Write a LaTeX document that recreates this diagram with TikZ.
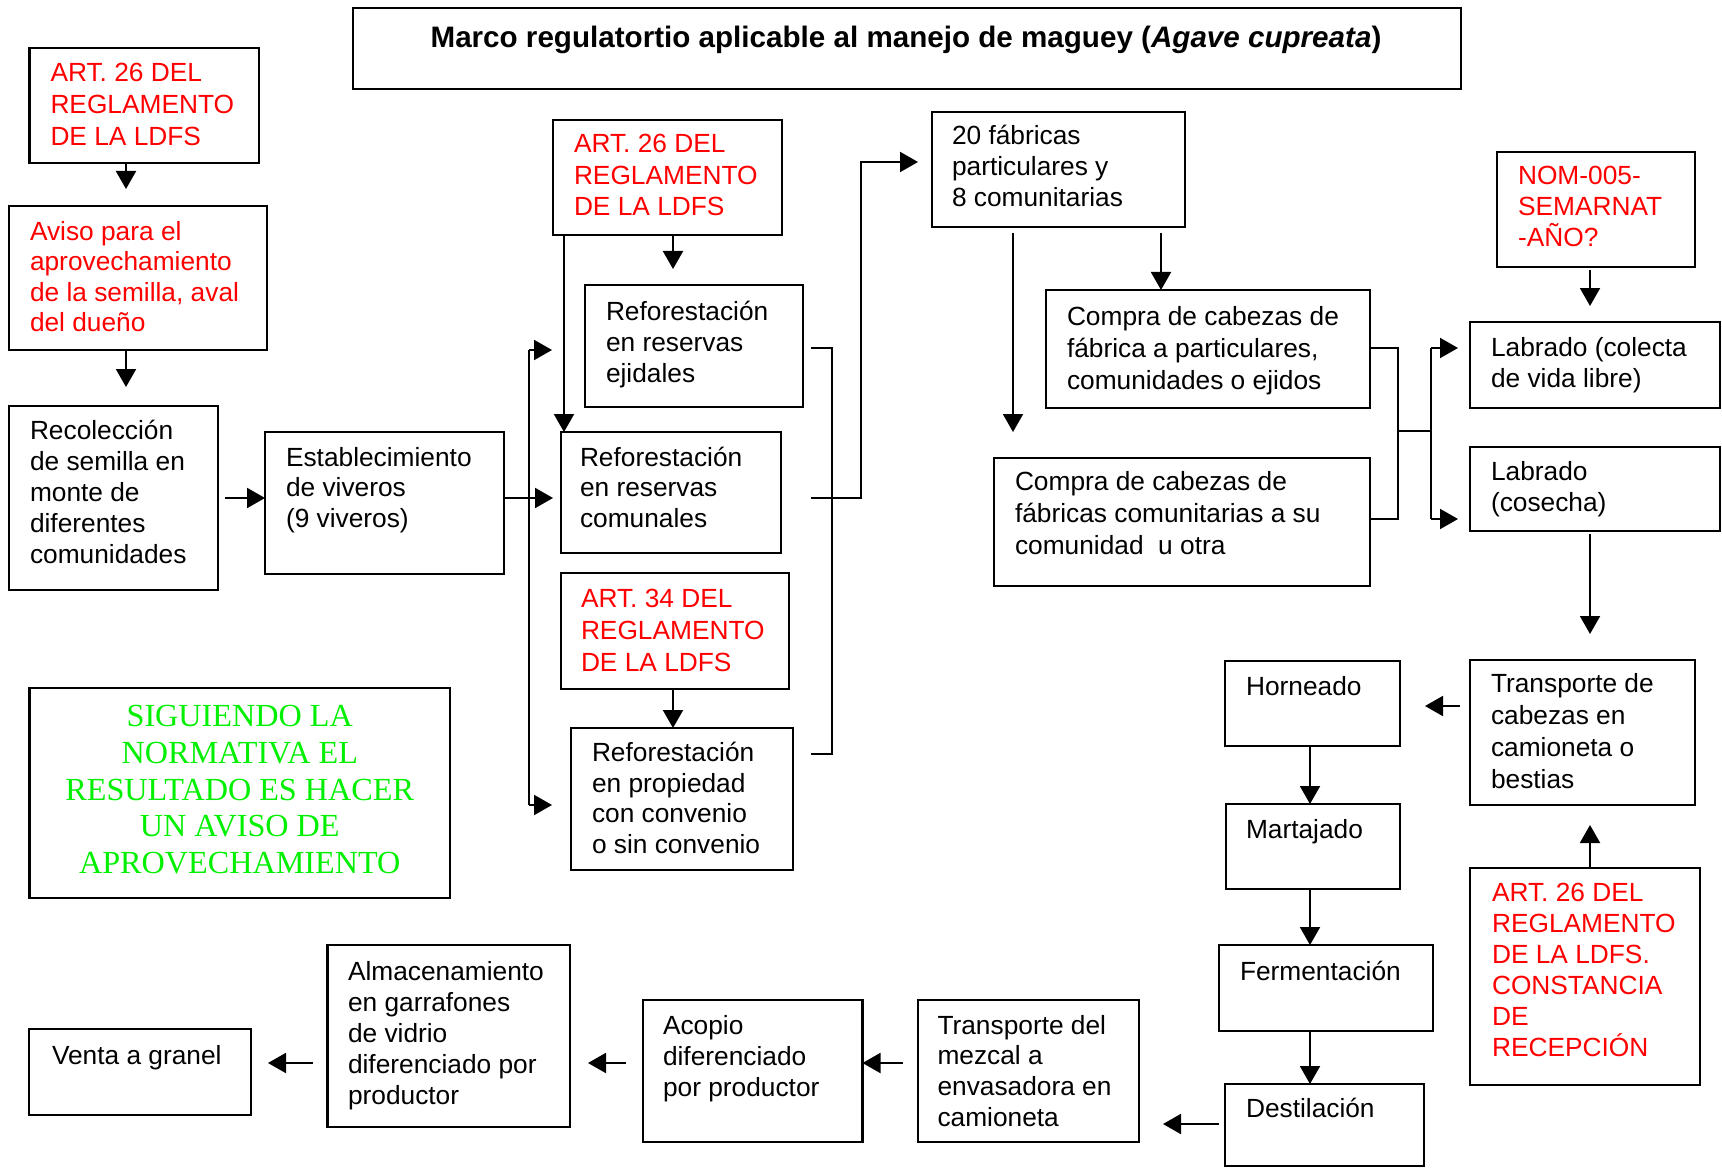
\documentclass[tikz,border=0pt]{standalone}
\usepackage{fontspec}
\setmainfont{Liberation Sans}
\newfontfamily\greenserif{Liberation Serif}
\usetikzlibrary{arrows.meta}
\definecolor{rojo}{RGB}{255,0,0}
\definecolor{verde}{RGB}{0,240,0}
\newcommand\mylines[1]{\begin{tabular}[t]{@{}l@{}}#1\end{tabular}}
\begin{document}
\begin{tikzpicture}[x=1pt,y=-1pt,
  box/.style={draw=black,line width=2.3pt,anchor=north west,inner sep=0pt,outer sep=0pt},
  txt/.style={anchor=base west,inner sep=0pt,outer sep=0pt,font=\fontsize{26.3}{#1}\selectfont},
  txt/.default=31,
  red/.style={text=rojo},
  ln/.style={line width=2pt},
  arr/.style={line width=2pt,-{Triangle[length=18pt,width=20pt]}}]
\fill[white] (0,0) rectangle (1722,1169);
\useasboundingbox (0,0) rectangle (1722,1169);

% ---------- boxes ----------
\node[box,minimum width=1108,minimum height=81] (title) at (353,8) {};
\node[box,minimum width=229.5,minimum height=115] (a1) at (29.5,48) {};
\node[box,minimum width=258,minimum height=144] (a2) at (9,206) {};
\node[box,minimum width=209,minimum height=184] (rec) at (9,406) {};
\node[box,minimum width=239,minimum height=142] (est) at (265,432) {};
\node[box,minimum width=229,minimum height=115] (art26b) at (553,120) {};
\node[box,minimum width=218,minimum height=122] (ejid) at (585,285) {};
\node[box,minimum width=220,minimum height=121] (comun) at (561,432) {};
\node[box,minimum width=228,minimum height=116] (art34) at (561,573) {};
\node[box,minimum width=222,minimum height=142] (prop) at (571,728) {};
\node[box,minimum width=253,minimum height=115] (fab) at (932,112) {};
\node[box,minimum width=324,minimum height=118] (comp1) at (1046,290) {};
\node[box,minimum width=376,minimum height=128] (comp2) at (994,458) {};
\node[box,minimum width=198,minimum height=115] (nom) at (1497,152) {};
\node[box,minimum width=250,minimum height=86] (lab1) at (1470,322) {};
\node[box,minimum width=250,minimum height=84] (lab2) at (1470,447) {};
\node[box,minimum width=225,minimum height=145] (trans) at (1470,660) {};
\node[box,minimum width=175,minimum height=85] (horn) at (1225,661) {};
\node[box,minimum width=174,minimum height=85] (mart) at (1226,804) {};
\node[box,minimum width=214,minimum height=86] (ferm) at (1219,945) {};
\node[box,minimum width=199,minimum height=82] (dest) at (1225,1084) {};
\node[box,minimum width=230,minimum height=217] (art26c) at (1470,868) {};
\node[box,minimum width=222,minimum height=86] (venta) at (29,1029) {};
\node[box,minimum width=242.5,minimum height=182] (alm) at (327.5,945) {};
\node[box,minimum width=219.5,minimum height=142] (acop) at (643,1000) {};
\node[box,minimum width=221,minimum height=142] (tmez) at (918,1000) {};
\node[box,minimum width=420.5,minimum height=210] (green) at (29.5,688) {};

% ---------- texts ----------
\node[anchor=base,inner sep=0pt,font=\fontsize{29.6}{34}\selectfont\bfseries] (titlet) at (906,48)
  {Marco regulatortio aplicable al manejo de maguey (\textit{Agave cupreata})};
\node[txt=32,red] (a1t) at (50.5,82) {\mylines{ART. 26 DEL\\REGLAMENTO\\DE LA LDFS}};
\node[txt=30.4,red] (a2t) at (30,240.5) {\mylines{Aviso para el\\aprovechamiento\\de la semilla, aval\\del dueño}};
\node[txt=31] (rect) at (30,439.5) {\mylines{Recolección\\de semilla en\\monte de\\diferentes\\comunidades}};
\node[txt=30.5] (estt) at (286,466) {\mylines{Establecimiento\\de viveros\\(9 viveros)}};
\node[txt=31.25,red] (art26bt) at (574,153) {\mylines{ART. 26 DEL\\REGLAMENTO\\DE LA LDFS}};
\node[txt=31.2] (ejidt) at (606,320) {\mylines{Reforestación\\en reservas\\ejidales}};
\node[txt=30.5] (comunt) at (580,466) {\mylines{Reforestación\\en reservas\\comunales}};
\node[txt=31.75,red] (art34t) at (581,607.5) {\mylines{ART. 34 DEL\\REGLAMENTO\\DE LA LDFS}};
\node[txt=30.5] (propt) at (592,761.5) {\mylines{Reforestación\\en propiedad\\con convenio\\o sin convenio}};
\node[txt=31] (fabt) at (952,145) {\mylines{20 fábricas\\particulares y\\8 comunitarias}};
\node[txt=32] (comp1t) at (1067,325) {\mylines{Compra de cabezas de\\fábrica a particulares,\\comunidades o ejidos}};
\node[txt=32] (comp2t) at (1015,490) {\mylines{Compra de cabezas de\\fábricas comunitarias a su\\comunidad\ \ u otra}};
\node[txt=31,red] (nomt) at (1518,185) {\mylines{NOM-005-\\SEMARNAT\\\smash{-AÑO?}}};
\node[txt=31] (lab1t) at (1491,356) {\mylines{Labrado (colecta\\de vida libre)}};
\node[txt=31.7] (lab2t) at (1491,480) {\mylines{Labrado\\(cosecha)}};
\node[txt=32] (transt) at (1491,692) {\mylines{Transporte de\\cabezas en\\camioneta o\\bestias}};
\node[txt] (hornt) at (1246,695) {Horneado};
\node[txt] (martt) at (1246,838) {Martajado};
\node[txt] (fermt) at (1240,980) {Fermentación};
\node[txt] (destt) at (1246,1117) {Destilación};
\node[txt=31,red] (art26ct) at (1492,901) {\mylines{ART. 26 DEL\\REGLAMENTO\\DE LA LDFS.\\CONSTANCIA\\DE\\\smash{RECEPCIÓN}}};
\node[txt] (ventat) at (52,1064) {Venta a granel};
\node[txt=31] (almt) at (348,980) {\mylines{Almacenamiento\\en garrafones\\de vidrio\\diferenciado por\\productor}};
\node[txt=31.2] (acopt) at (663,1034) {\mylines{Acopio\\diferenciado\\por productor}};
\node[txt=30.8] (tmezt) at (937.5,1034) {\mylines{Transporte del\\mezcal a\\envasadora en\\camioneta}};
\node[anchor=base,inner sep=0pt,text=verde,font=\greenserif\fontsize{32.2}{36.75}\selectfont] (greent) at (239.75,726.5)
  {\begin{tabular}[t]{@{}c@{}}SIGUIENDO LA\\NORMATIVA EL\\RESULTADO ES HACER\\UN AVISO DE\\APROVECHAMIENTO\end{tabular}};

% ---------- helper coordinates ----------
\coordinate (xA) at (126,0);
\coordinate (xB) at (564,0);
\coordinate (xC) at (673,0);
\coordinate (xD) at (832,0);
\coordinate (xF) at (861,0);
\coordinate (xG) at (1161,0);
\coordinate (xH) at (1013,0);
\coordinate (xI) at (1398,0);
\coordinate (xJ) at (1431,0);
\coordinate (xK) at (1590,0);
\coordinate (xL) at (1310,0);
\coordinate (yE) at (0,498);
\coordinate (yF) at (0,348);
\coordinate (yG) at (0,754);
\coordinate (yH) at (0,162);
\coordinate (yJ) at (0,519);
\coordinate (yK) at (0,431);
\coordinate (yL) at (0,706);
\coordinate (yM) at (0,1124);
\coordinate (yN) at (0,1063);
\coordinate (jt) at (529,350);
\coordinate (jb) at (529,805);

% ---------- connectors ----------
\draw[arr,shorten >=17pt] (a1.south -| xA) -- (a2.north -| xA);
\draw[arr,shorten >=19pt] (a2.south -| xA) -- (rec.north -| xA);
\draw[arr,shorten <=7pt] (rec.east |- yE) -- (est.west |- yE);
\draw[arr,shorten >=8pt] (est.east |- yE) -- (comun.west |- yE);
\draw[ln] (jt) -- (jb);
\draw[arr,shorten >=33pt] (jt) -- (ejid.west |- jt);
\draw[arr,shorten >=19pt] (jb) -- (prop.west |- jb);
\draw[arr] (art26b.south -| xB) -- (comun.north -| xB);
\draw[arr,shorten >=16pt] (art26b.south -| xC) -- (ejid.north -| xC);
\draw[arr] (art34.south -| xC) -- (prop.north -| xC);
\draw[ln,shorten <=8pt,shorten >=18pt] (ejid.east |- yF) -- (xD |- yF) -- (xD |- yG) -- (prop.east |- yG);
\draw[arr,shorten <=30pt,shorten >=14pt] (comun.east |- yE) -- (xF |- yE) -- (xF |- yH) -- (fab.west |- yH);
\draw[arr,shorten <=6pt] (fab.south -| xG) -- (comp1.north -| xG);
\draw[arr,shorten <=6pt,shorten >=26pt] (fab.south -| xH) -- (comp2.north -| xH);
\draw[ln] (comp1.east |- yF) -- (xI |- yF) -- (xI |- yJ) -- (comp2.east |- yJ);
\draw[ln] (xI |- yK) -- (xJ |- yK);
\draw[ln] (xJ |- yF) -- (xJ |- yJ);
\draw[arr,shorten >=12pt] (xJ |- yF) -- (lab1.west |- yF);
\draw[arr,shorten >=12pt] (xJ |- yJ) -- (lab2.west |- yJ);
\draw[arr,shorten <=3pt,shorten >=16pt] (nom.south -| xK) -- (lab1.north -| xK);
\draw[arr,shorten <=3pt,shorten >=26pt] (lab2.south -| xK) -- (trans.north -| xK);
\draw[arr,shorten >=20pt] (art26c.north -| xK) -- (trans.south -| xK);
\draw[arr,shorten <=10pt,shorten >=25pt] (trans.west |- yL) -- (horn.east |- yL);
\draw[arr] (horn.south -| xL) -- (mart.north -| xL);
\draw[arr] (mart.south -| xL) -- (ferm.north -| xL);
\draw[arr] (ferm.south -| xL) -- (dest.north -| xL);
\draw[arr,shorten <=6pt,shorten >=24pt] (dest.west |- yM) -- (tmez.east |- yM);
\draw[arr,shorten <=15pt] (tmez.west |- yN) -- (acop.east |- yN);
\draw[arr,shorten <=17pt,shorten >=18pt] (acop.west |- yN) -- (alm.east |- yN);
\draw[arr,shorten <=15pt,shorten >=17pt] (alm.west |- yN) -- (venta.east |- yN);
\end{tikzpicture}
\end{document}
